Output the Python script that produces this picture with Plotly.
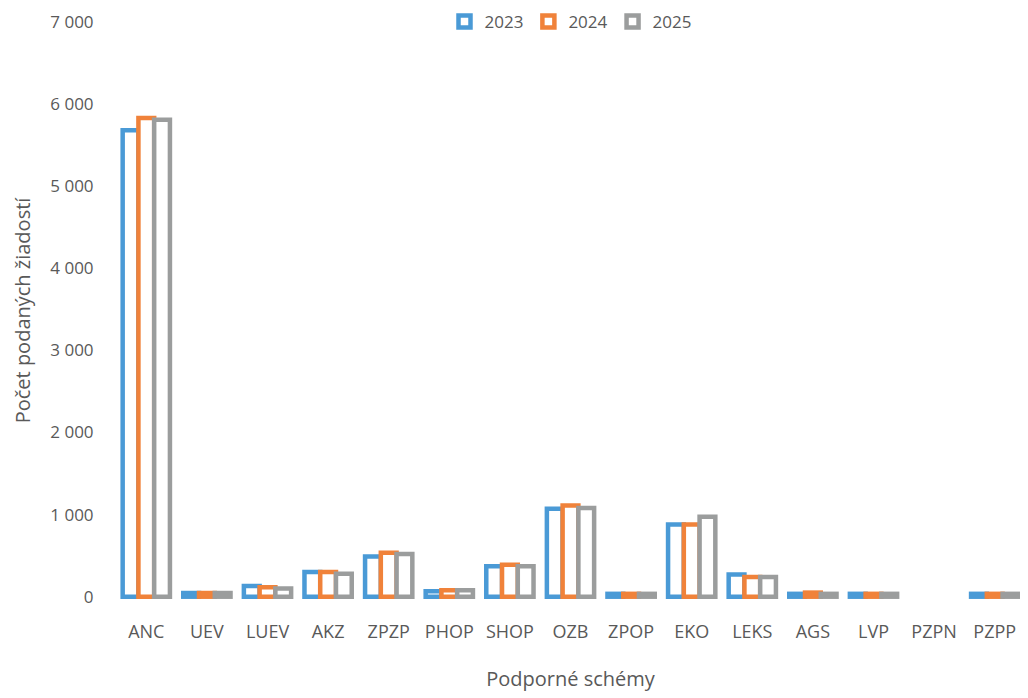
import plotly.graph_objects as go

# Podporné schémy a počty podaných žiadostí
schemes = ['ANC', 'UEV', 'LUEV', 'AKZ', 'ZPZP', 'PHOP', 'SHOP', 'OZB',
           'ZPOP', 'EKO', 'LEKS', 'AGS', 'LVP', 'PZPN', 'PZPP']
y2023 = [5680, 45, 130, 300, 490, 65, 370, 1070, 35, 880, 270, 35, 35, None, 35]
y2024 = [5830, 45, 115, 300, 535, 80, 390, 1110, 35, 880, 240, 50, 35, None, 35]
y2025 = [5810, 45, 100, 280, 520, 80, 370, 1080, 35, 975, 240, 35, 35, None, 35]
years = ['2023', '2024', '2025']
colors = ['#4A9AD6', '#F0823A', '#9B9D9D']

fig = go.Figure()
for name, vals, col in zip(years, [y2023, y2024, y2025], colors):
    fig.add_trace(go.Bar(
        x=schemes, y=vals, name=name,
        marker=dict(color='white', line=dict(color=col, width=4.5)),
        cliponaxis=False,
    ))

# the page body adds 8px around the figure, so the figure is a bit smaller
font = 'Open Sans, Noto Sans, sans-serif'
fig.update_layout(
    width=1020, height=690,
    margin=dict(l=108, r=3, t=14, b=99, autoexpand=False),
    paper_bgcolor='white', plot_bgcolor='white',
    barmode='group', bargap=0.22, bargroupgap=0,
    separators=', ',
    font=dict(family=font, size=17, color='#595959'),
    showlegend=True,
    legend=dict(orientation='h', x=0.5, xanchor='center', y=1.0, yanchor='middle',
                font=dict(size=17, color='#595959'), itemwidth=30, traceorder='normal'),
)
fig.update_xaxes(
    showgrid=False, showline=False, zeroline=False, automargin=False,
    ticks='outside', ticklen=0, ticklabelstandoff=16,
    tickfont=dict(size=18),
    title=dict(text='Podporné schémy', standoff=30, font=dict(size=20)),
)
# slight negative start so the bottom outline of the bars stays visible
fig.update_yaxes(
    range=[-28, 7000], tickvals=[0, 1000, 2000, 3000, 4000, 5000, 6000, 7000],
    tickformat=',d',
    showgrid=False, showline=False, zeroline=False, automargin=False,
    ticks='outside', ticklen=0, ticklabelstandoff=18,
    title=dict(text='Počet podaných žiadostí', standoff=14, font=dict(size=20)),
)

fig.write_html('out.html')
